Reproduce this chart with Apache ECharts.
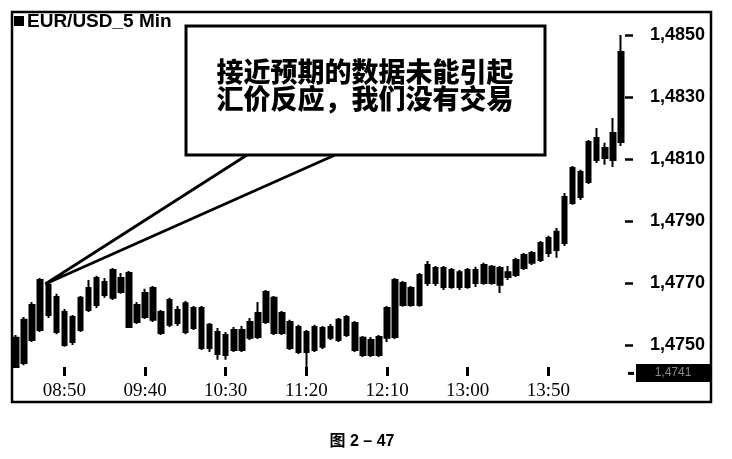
<!DOCTYPE html>
<html>
<head>
<meta charset="utf-8">
<script src="https://cdn.jsdelivr.net/npm/echarts@6/dist/echarts.min.js"></script>
<style>
  html, body { margin: 0; padding: 0; background: #fff; }
  #chart { width: 732px; height: 459px; }
</style>
</head>
<body>
<div id="chart"></div>
<script>
// EUR/USD 5-minute bars, 08:20 to 14:35
const startMinute = 8 * 60 + 20;
const slotCount = 77; // one empty slot after the last bar
const times = [];
for (let i = 0; i < slotCount; i++) {
  const m = startMinute + 5 * i;
  times.push(String(Math.floor(m / 60)).padStart(2, '0') + ':' + String(m % 60).padStart(2, '0'));
}

const opens = [
  1.47429, 1.47442, 1.47516, 1.47548, 1.47694, 1.47655, 1.47606, 1.47510, 1.47548, 1.47613,
  1.47629, 1.47703, 1.47652, 1.47716, 1.47732, 1.47574, 1.47590, 1.47684, 1.47606, 1.47565,
  1.47613, 1.47542, 1.47619, 1.47619, 1.47490, 1.47542, 1.47468, 1.47548, 1.47484, 1.47523,
  1.47526, 1.47574, 1.47652, 1.47603, 1.47574, 1.47558, 1.47477, 1.47558, 1.47494, 1.47523,
  1.47516, 1.47590, 1.47571, 1.47523, 1.47468, 1.47468, 1.47523, 1.47526, 1.47700, 1.47629,
  1.47629, 1.47700, 1.47748, 1.47748, 1.47687, 1.47735, 1.47687, 1.47742, 1.47700, 1.47752,
  1.47694, 1.47735, 1.47726, 1.47748, 1.47765, 1.47774, 1.47797, 1.47806, 1.47829, 1.47958,
  1.48058, 1.48026, 1.48168, 1.48135, 1.48097, 1.48155
];
const closes = [
  1.47523, 1.47581, 1.47629, 1.47710, 1.47597, 1.47542, 1.47500, 1.47590, 1.47652, 1.47684,
  1.47716, 1.47661, 1.47742, 1.47671, 1.47558, 1.47629, 1.47668, 1.47581, 1.47539, 1.47645,
  1.47571, 1.47635, 1.47555, 1.47490, 1.47565, 1.47471, 1.47532, 1.47484, 1.47548, 1.47574,
  1.47603, 1.47671, 1.47539, 1.47539, 1.47490, 1.47477, 1.47542, 1.47484, 1.47555, 1.47558,
  1.47581, 1.47532, 1.47484, 1.47468, 1.47516, 1.47526, 1.47619, 1.47710, 1.47629, 1.47684,
  1.47726, 1.47758, 1.47700, 1.47687, 1.47742, 1.47687, 1.47742, 1.47700, 1.47758, 1.47700,
  1.47748, 1.47719, 1.47774, 1.47790, 1.47797, 1.47829, 1.47845, 1.47865, 1.47977, 1.48071,
  1.47977, 1.48155, 1.48097, 1.48103, 1.48184, 1.48445
];
const lows = [
  1.47426, 1.47435, 1.47510, 1.47542, 1.47587, 1.47535, 1.47494, 1.47500, 1.47542, 1.47606,
  1.47619, 1.47652, 1.47645, 1.47665, 1.47555, 1.47568, 1.47584, 1.47574, 1.47532, 1.47558,
  1.47561, 1.47535, 1.47548, 1.47484, 1.47477, 1.47452, 1.47452, 1.47477, 1.47477, 1.47516,
  1.47519, 1.47568, 1.47532, 1.47532, 1.47484, 1.47471, 1.47419, 1.47477, 1.47487, 1.47516,
  1.47510, 1.47526, 1.47477, 1.47461, 1.47461, 1.47461, 1.47510, 1.47519, 1.47623, 1.47623,
  1.47623, 1.47690, 1.47690, 1.47677, 1.47681, 1.47677, 1.47681, 1.47687, 1.47694, 1.47694,
  1.47668, 1.47710, 1.47719, 1.47742, 1.47758, 1.47768, 1.47784, 1.47781, 1.47819, 1.47952,
  1.47968, 1.48019, 1.48087, 1.48081, 1.48074, 1.48142
];
const highs = [
  1.47532, 1.47590, 1.47639, 1.47716, 1.47703, 1.47665, 1.47616, 1.47597, 1.47658, 1.47710,
  1.47723, 1.47716, 1.47748, 1.47732, 1.47739, 1.47639, 1.47681, 1.47690, 1.47613, 1.47652,
  1.47626, 1.47642, 1.47626, 1.47626, 1.47571, 1.47555, 1.47542, 1.47558, 1.47561, 1.47587,
  1.47639, 1.47677, 1.47658, 1.47610, 1.47581, 1.47565, 1.47548, 1.47565, 1.47561, 1.47568,
  1.47587, 1.47597, 1.47577, 1.47529, 1.47526, 1.47532, 1.47626, 1.47716, 1.47706, 1.47690,
  1.47732, 1.47771, 1.47755, 1.47755, 1.47748, 1.47742, 1.47748, 1.47752, 1.47765, 1.47758,
  1.47755, 1.47755, 1.47781, 1.47797, 1.47803, 1.47835, 1.47852, 1.47877, 1.47990, 1.48077,
  1.48065, 1.48161, 1.48200, 1.48152, 1.48232, 1.48500
];

const priceTicks = [1.4750, 1.4770, 1.4790, 1.4810, 1.4830, 1.4850];
const lastPriceTag = 1.4741;
const calloutLines = ['接近预期的数据未能引起', '汇价反应，我们没有交易'];
const calloutBar = 4;
const titleText = 'EUR/USD_5 Min';
const captionText = '图 2 – 47';

const candles = opens.map((o, i) => [o, closes[i], lows[i], highs[i]]);
const fmt = v => v.toFixed(4).replace('.', ',');
const isLabelled = idx => idx >= 6 && idx <= 66 && (idx - 6) % 10 === 0;

const chart = echarts.init(document.getElementById('chart'), null, { renderer: 'canvas' });

chart.setOption({
  animation: false,
  backgroundColor: '#fff',
  grid: { left: 12, right: 99, top: 12, bottom: 92 },
  xAxis: {
    type: 'category',
    data: times,
    boundaryGap: true,
    axisLine: { show: false },
    axisTick: {
      show: true, alignWithLabel: true, length: 9,
      interval: isLabelled,
      lineStyle: { color: '#000', width: 3 }
    },
    axisLabel: {
      interval: isLabelled, margin: 15,
      fontFamily: '"Liberation Serif", serif', fontSize: 19, color: '#000'
    },
    splitLine: { show: false }
  },
  yAxis: {
    type: 'value',
    position: 'right',
    min: 1.47429,
    max: 1.48574,
    scale: true,
    axisLine: { show: false },
    splitLine: { show: false },
    axisTick: {
      show: true, inside: true, length: 8,
      customValues: priceTicks,
      lineStyle: { color: '#000', width: 2.5 }
    },
    axisLabel: {
      customValues: priceTicks,
      margin: 17,
      formatter: fmt,
      fontFamily: '"Liberation Sans", Arial, sans-serif',
      fontWeight: 'bold', fontSize: 18, color: '#000'
    }
  },
  series: [{
    type: 'candlestick',
    data: candles,
    clip: false,
    barWidth: 5,
    itemStyle: {
      color: '#000', color0: '#000',
      borderColor: '#000', borderColor0: '#000',
      borderWidth: 2
    }
  }]
});

// pointer tip sits on the high of the annotated bar
const tip = chart.convertToPixel({ xAxisIndex: 0, yAxisIndex: 0 }, [calloutBar, highs[calloutBar]]);
// price tag row, placed on the price scale
const tagY = chart.convertToPixel({ yAxisIndex: 0 }, lastPriceTag);

chart.setOption({
  graphic: [
    {
      type: 'rect', z: 1, silent: true,
      shape: { x: 12, y: 12, width: 699, height: 390 },
      style: { fill: 'none', stroke: '#000', lineWidth: 2.5 }
    },
    {
      type: 'rect', z: 10, silent: true,
      shape: { x: 14, y: 16, width: 10, height: 10 },
      style: { fill: '#000' }
    },
    {
      type: 'text', z: 10, silent: true, x: 27, y: 12,
      style: {
        text: titleText, fill: '#000',
        font: 'bold 19px "Liberation Sans", Arial, sans-serif'
      }
    },
    {
      type: 'rect', z: 10, silent: true,
      shape: { x: 628, y: tagY - 1, width: 6, height: 3 },
      style: { fill: '#000' }
    },
    {
      type: 'rect', z: 10, silent: true,
      shape: { x: 636, y: tagY - 9, width: 74, height: 18 },
      style: { fill: '#000' }
    },
    {
      type: 'text', z: 11, silent: true, x: 673, y: tagY,
      style: {
        text: fmt(lastPriceTag), fill: '#8a8a8a',
        font: '12px "Liberation Sans", Arial, sans-serif',
        align: 'center', verticalAlign: 'middle'
      }
    },
    {
      type: 'polyline', z: 20, silent: true,
      shape: { points: [[247, 155], [tip[0] - 3, tip[1] + 2], [335, 155]] },
      style: { fill: 'none', stroke: '#000', lineWidth: 2.8, lineJoin: 'miter' }
    },
    {
      type: 'rect', z: 21, silent: true,
      shape: { x: 186, y: 26, width: 359, height: 129 },
      style: { fill: '#fff', stroke: '#000', lineWidth: 3 }
    },
    {
      type: 'text', z: 22, silent: true, x: 365, y: 58,
      style: {
        text: calloutLines.join('\n'), fill: '#000',
        font: '900 27px "Noto Sans CJK SC", sans-serif',
        align: 'center', lineHeight: 27
      }
    },
    {
      type: 'text', z: 10, silent: true, x: 362, y: 434,
      style: {
        text: captionText, fill: '#000',
        font: 'bold 16px "Liberation Sans", "Noto Sans CJK SC", sans-serif',
        align: 'center'
      }
    }
  ]
});
</script>
</body>
</html>
